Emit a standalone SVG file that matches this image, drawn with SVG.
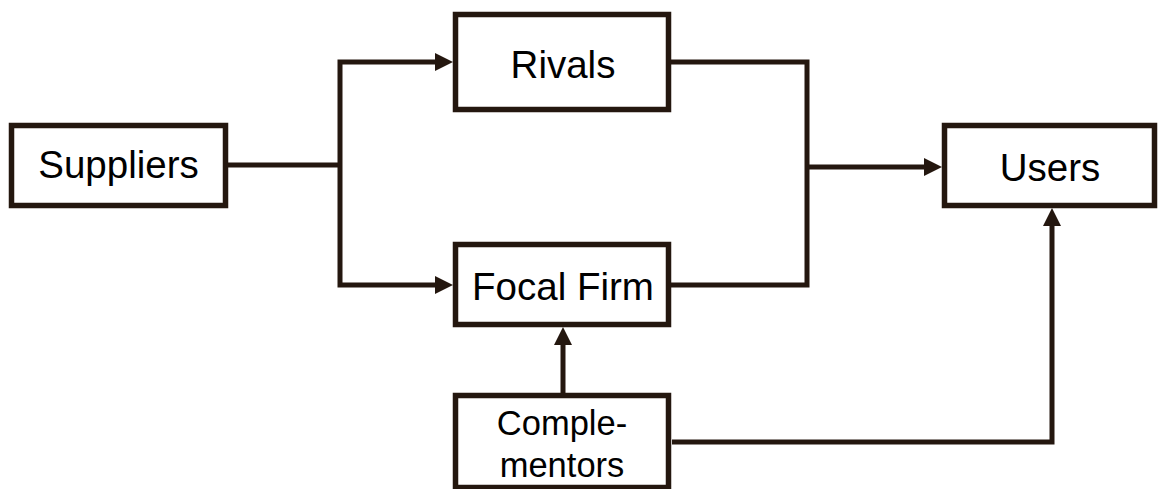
<svg xmlns="http://www.w3.org/2000/svg" width="1159" height="489" viewBox="0 0 1159 489">
<style>
.box{fill:#fff;stroke:#24170f;stroke-width:5.5}
.lbl{font-family:"Liberation Sans",Arial,sans-serif;font-size:38.5px;fill:#000;text-anchor:middle}
.sm{font-size:34.5px}
.ln{fill:none;stroke:#24170f;stroke-width:5;stroke-linejoin:miter}
</style>
<defs>
<marker id="ah" markerWidth="18" markerHeight="18" refX="10" refY="9" orient="auto-start-reverse" markerUnits="userSpaceOnUse">
<path d="M0,0 L18,9 L0,18 Z" fill="#24170f"/>
</marker>
</defs>
<g id="connectors">
<path class="ln" d="M228,165 H340"/>
<path class="ln" d="M445,62 H340 V285 H445" marker-start="url(#ah)" marker-end="url(#ah)"/>
<path class="ln" d="M671,62 H807 V285 H671"/>
<path class="ln" d="M807,167 H934" marker-end="url(#ah)"/>
<path class="ln" d="M563,393 V335" marker-end="url(#ah)"/>
<path class="ln" d="M672,442 H1052 V216" marker-end="url(#ah)"/>
</g>
<g id="suppliers">
<rect class="box" x="11.5" y="125.5" width="214" height="80"/>
<text class="lbl" x="118.5" y="178">Suppliers</text>
</g>
<g id="rivals">
<rect class="box" x="455.5" y="14.5" width="213" height="95"/>
<text class="lbl" x="563" y="78">Rivals</text>
</g>
<g id="focal-firm">
<rect class="box" x="455.5" y="244.5" width="213" height="80"/>
<text class="lbl" x="563" y="300">Focal Firm</text>
</g>
<g id="users">
<rect class="box" x="944.5" y="125.5" width="210" height="80"/>
<text class="lbl" x="1050" y="181">Users</text>
</g>
<g id="complementors">
<rect class="box" x="455.5" y="395.5" width="213" height="92"/>
<text class="lbl sm" x="562" y="435">Comple-</text>
<text class="lbl sm" x="562" y="477">mentors</text>
</g>
</svg>
